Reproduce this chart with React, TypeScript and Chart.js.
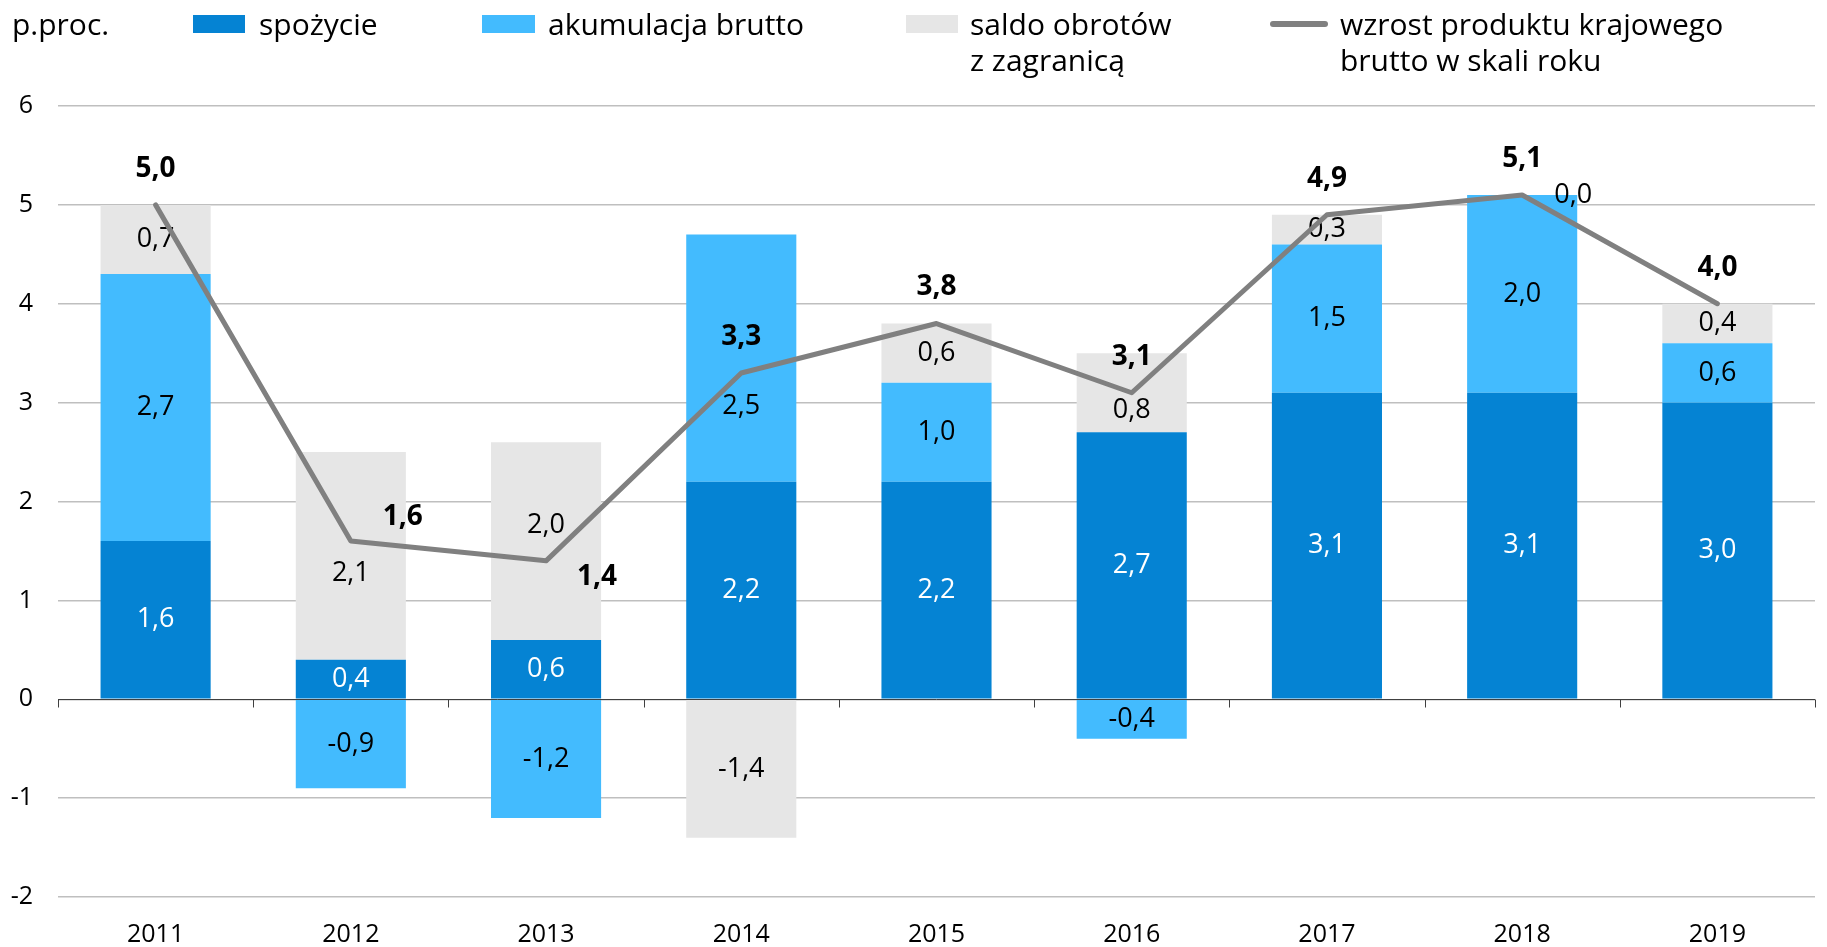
import React, { useEffect, useRef } from 'react';
import { Chart, registerables } from 'chart.js';

Chart.register(...registerables);

// ---------- data ----------
const years = ['2011', '2012', '2013', '2014', '2015', '2016', '2017', '2018', '2019'];
const consumption = [1.6, 0.4, 0.6, 2.2, 2.2, 2.7, 3.1, 3.1, 3.0];
const investment = [2.7, -0.9, -1.2, 2.5, 1.0, -0.4, 1.5, 2.0, 0.6];
const netExports = [0.7, 2.1, 2.0, -1.4, 0.6, 0.8, 0.3, 0.0, 0.4];
const gdpGrowth = [5.0, 1.6, 1.4, 3.3, 3.8, 3.1, 4.9, 5.1, 4.0];
const yMin = -2;
const yMax = 6;
const unitLabel = 'p.proc.';
const consumptionName = 'spożycie';
const investmentName = 'akumulacja brutto';
const netExportsName = ['saldo obrotów', 'z zagranicą'];
const gdpName = ['wzrost produktu krajowego', 'brutto w skali roku'];

// ---------- style ----------
const C_CONS = '#0583D3';
const C_INV = '#43BBFE';
const C_NET = '#E6E6E6';
const C_GDP = '#808080';
const FONT = '"Open Sans", "Noto Sans", sans-serif';

// label nudges (px) to avoid overlaps, as in the original
const invLabelDy = [0, 0, 0, 48, 0, 0, 0, 0, 0];
const netLabelDx = [0, 0, 0, 0, 0, 0, 0, 51, 0];
const netLabelDy = [0, 17, -16, 0, 0, 18, 0, 0, 0];
const gdpLabelDx = [0, 52, 51, 0, 0, 0, 0, 0, 0];
const gdpLabelDy = [-36, -24, 16, -36, -36, -36, -36, -36, -36];

const fmt = (v: number) => v.toFixed(1).replace('.', ',');

const overlayPlugin = {
  id: 'overlay',
  beforeDatasetDraw(chart: any, args: any) {
    if (args.meta.type !== 'line') return;
    const { ctx, chartArea } = chart;
    const yS = chart.scales.y;
    const y0 = Math.round(yS.getPixelForValue(0)) + 0.5;
    ctx.save();
    // zero line
    ctx.strokeStyle = '#404040';
    ctx.lineWidth = 1;
    ctx.beginPath();
    ctx.moveTo(chartArea.left, y0);
    ctx.lineTo(chartArea.right, y0);
    const step = (chartArea.right - chartArea.left) / years.length;
    for (let i = 0; i <= years.length; i++) {
      const xx = Math.round(chartArea.left + i * step) + 0.5;
      ctx.moveTo(xx, y0);
      ctx.lineTo(xx, y0 + 8);
    }
    ctx.stroke();

    // bar labels
    ctx.font = `27px ${FONT}`;
    ctx.textAlign = 'center';
    ctx.textBaseline = 'middle';
    chart.data.datasets.forEach((ds: any, di: number) => {
      if (ds.type === 'line') return;
      const meta = chart.getDatasetMeta(di);
      meta.data.forEach((el: any, i: number) => {
        const v = ds.data[i];
        let cx = el.x;
        let cy = (el.y + el.base) / 2;
        if (ds.key === 'cons') {
          ctx.fillStyle = '#FFFFFF';
        } else if (ds.key === 'inv') {
          ctx.fillStyle = '#000000';
          cy += invLabelDy[i];
        } else {
          ctx.fillStyle = '#000000';
          cx += netLabelDx[i];
          cy += netLabelDy[i];
        }
        ctx.fillText(fmt(v), cx, cy);
      });
    });
    ctx.restore();
  },
  afterDatasetsDraw(chart: any) {
    const { ctx } = chart;
    const di = chart.data.datasets.findIndex((d: any) => d.type === 'line');
    const meta = chart.getDatasetMeta(di);
    ctx.save();
    ctx.font = `bold 28px ${FONT}`;
    ctx.textAlign = 'center';
    ctx.textBaseline = 'middle';
    ctx.fillStyle = '#000000';
    meta.data.forEach((pt: any, i: number) => {
      ctx.fillText(fmt(gdpGrowth[i]), pt.x + gdpLabelDx[i], pt.y + gdpLabelDy[i]);
    });
    ctx.restore();
  },
  afterDraw(chart: any) {
    const { ctx } = chart;
    ctx.save();
    ctx.font = `30px ${FONT}`;
    ctx.textAlign = 'left';
    ctx.textBaseline = 'alphabetic';
    ctx.fillStyle = '#000000';
    const b1 = 35;
    const b2 = 71;
    ctx.fillText(unitLabel, 12, b1);
    ctx.fillStyle = C_CONS;
    ctx.fillRect(193, 15, 52, 18);
    ctx.fillStyle = C_INV;
    ctx.fillRect(482, 15, 53, 18);
    ctx.fillStyle = C_NET;
    ctx.fillRect(906, 15, 52, 18);
    ctx.strokeStyle = C_GDP;
    ctx.lineWidth = 6;
    ctx.lineCap = 'round';
    ctx.beginPath();
    ctx.moveTo(1273, 24);
    ctx.lineTo(1325, 24);
    ctx.stroke();
    ctx.fillStyle = '#000000';
    ctx.fillText(consumptionName, 259, b1);
    ctx.fillText(investmentName, 548, b1);
    ctx.fillText(netExportsName[0], 970, b1);
    ctx.fillText(netExportsName[1], 970, b2);
    ctx.fillText(gdpName[0], 1340, b1);
    ctx.fillText(gdpName[1], 1340, b2);
    ctx.restore();
  },
};

export default function App() {
  const ref = useRef<HTMLCanvasElement | null>(null);
  useEffect(() => {
    if (!ref.current) return;
    const chart = new Chart(ref.current, {
      type: 'bar',
      data: {
        labels: years,
        datasets: [
          {
            type: 'line',
            label: gdpName.join(' '),
            data: gdpGrowth,
            borderColor: C_GDP,
            borderWidth: 5,
            pointRadius: 0,
            tension: 0,
            borderCapStyle: 'round',
            borderJoinStyle: 'round',
            stack: 'gdp',
            order: 0,
          } as any,
          {
            type: 'bar',
            key: 'cons',
            label: consumptionName,
            data: consumption,
            backgroundColor: C_CONS,
            barPercentage: 0.564,
            categoryPercentage: 1,
            stack: 'demand',
            order: 1,
          } as any,
          {
            type: 'bar',
            key: 'inv',
            label: investmentName,
            data: investment,
            backgroundColor: C_INV,
            barPercentage: 0.564,
            categoryPercentage: 1,
            stack: 'demand',
            order: 1,
          } as any,
          {
            type: 'bar',
            key: 'net',
            label: netExportsName.join(' '),
            data: netExports,
            backgroundColor: C_NET,
            barPercentage: 0.564,
            categoryPercentage: 1,
            stack: 'demand',
            order: 1,
          } as any,
        ],
      },
      options: {
        animation: false,
        responsive: true,
        maintainAspectRatio: false,
        layout: { padding: { top: 106, right: 12, left: 0, bottom: 0 } },
        plugins: { legend: { display: false }, tooltip: { enabled: false } },
        scales: {
          x: {
            stacked: true,
            grid: { display: false },
            border: { display: false },
            ticks: {
              color: '#000000',
              font: { family: FONT, size: 25 },
              padding: 15,
            },
            afterFit: (s: any) => {
              s.height = 50;
            },
          },
          y: {
            stacked: true,
            min: yMin,
            max: yMax,
            border: { display: false },
            grid: {
              color: '#BFBFBF',
              lineWidth: 1.5,
              drawTicks: false,
            },
            ticks: {
              stepSize: 1,
              color: '#000000',
              font: { family: FONT, size: 25 },
              padding: 25,
            },
            afterFit: (s: any) => {
              s.width = 58;
            },
          },
        },
      },
      plugins: [overlayPlugin],
    });
    return () => chart.destroy();
  }, []);

  return (
    <div style={{ position: 'fixed', left: 0, top: 0, width: '1827px', height: '947px', background: '#fff' }}>
      <canvas ref={ref} />
    </div>
  );
}
